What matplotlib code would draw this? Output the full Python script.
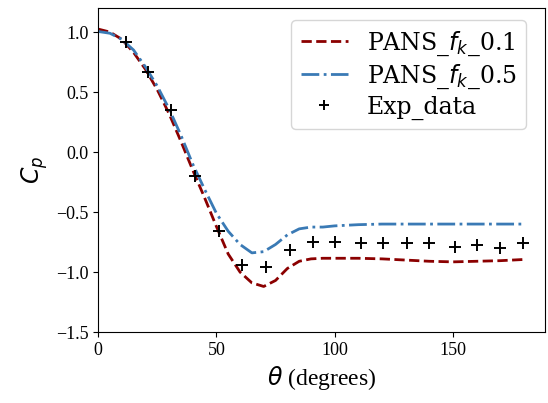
import numpy as np
import matplotlib
matplotlib.use("Agg")
import matplotlib.pyplot as plt

plt.rcParams['font.family'] = ['Liberation Serif', 'DejaVu Serif']
plt.rcParams['mathtext.fontset'] = 'dejavusans'

# Simulation curves (PANS)
theta_sim = [0, 5, 10, 15, 20, 25, 30, 35, 40, 45, 50, 55, 60, 65, 70, 75, 80,
             85, 90, 95, 100, 110, 120, 130, 140, 150, 160, 170, 180]
cp_fk01 = [1.025, 1.00, 0.94, 0.83, 0.69, 0.52, 0.32, 0.09, -0.15, -0.38, -0.62,
           -0.85, -1.00, -1.09, -1.12, -1.07, -0.97, -0.91, -0.89, -0.885, -0.885,
           -0.885, -0.89, -0.90, -0.91, -0.915, -0.91, -0.905, -0.895]
cp_fk05 = [1.005, 0.99, 0.94, 0.85, 0.71, 0.55, 0.36, 0.14, -0.10, -0.31, -0.51,
           -0.66, -0.77, -0.84, -0.83, -0.77, -0.69, -0.64, -0.625, -0.625, -0.615,
           -0.605, -0.60, -0.60, -0.60, -0.60, -0.60, -0.60, -0.60]

# Experimental data
theta_exp = [12, 21, 31, 41, 51, 61, 71, 81, 91, 100, 111, 120.5, 130.5, 140,
             151, 160, 170, 179.5]
cp_exp = [0.92, 0.67, 0.35, -0.20, -0.66, -0.94, -0.96, -0.82, -0.75, -0.75,
          -0.76, -0.76, -0.755, -0.755, -0.79, -0.775, -0.80, -0.755]

fig = plt.figure(figsize=(5.48, 4.03), dpi=100)
ax = fig.add_axes([0.179, 0.176, 0.816, 0.804])

ax.plot(theta_sim, cp_fk01, color='#8b0000', linestyle='--', linewidth=2,
        label=r'PANS_$f_k$_0.1')
ax.plot(theta_sim, cp_fk05, color='#3a7ab5', linestyle='-.', linewidth=2,
        label=r'PANS_$f_k$_0.5')
ax.plot(theta_exp, cp_exp, linestyle='none', marker='+', color='black',
        markersize=9, markeredgewidth=1.4, label='Exp_data')

ax.set_xlim(0, 189)
ax.set_ylim(-1.5, 1.2)
ax.set_xticks([0, 50, 100, 150])
ax.set_yticks([-1.5, -1.0, -0.5, 0.0, 0.5, 1.0])
ax.tick_params(labelsize=13)
ax.set_xlabel(r'$\theta$ (degrees)', fontsize=17)
ax.set_ylabel(r'$C_p$', fontsize=17)
ax.legend(loc='upper right', prop={'family': 'DejaVu Serif', 'size': 17},
          bbox_to_anchor=(526 / 548, 1 - 20 / 403), bbox_transform=fig.transFigure,
          borderaxespad=0, labelspacing=0.2, markerscale=0.8)

fig.savefig('out.png', dpi=100)
